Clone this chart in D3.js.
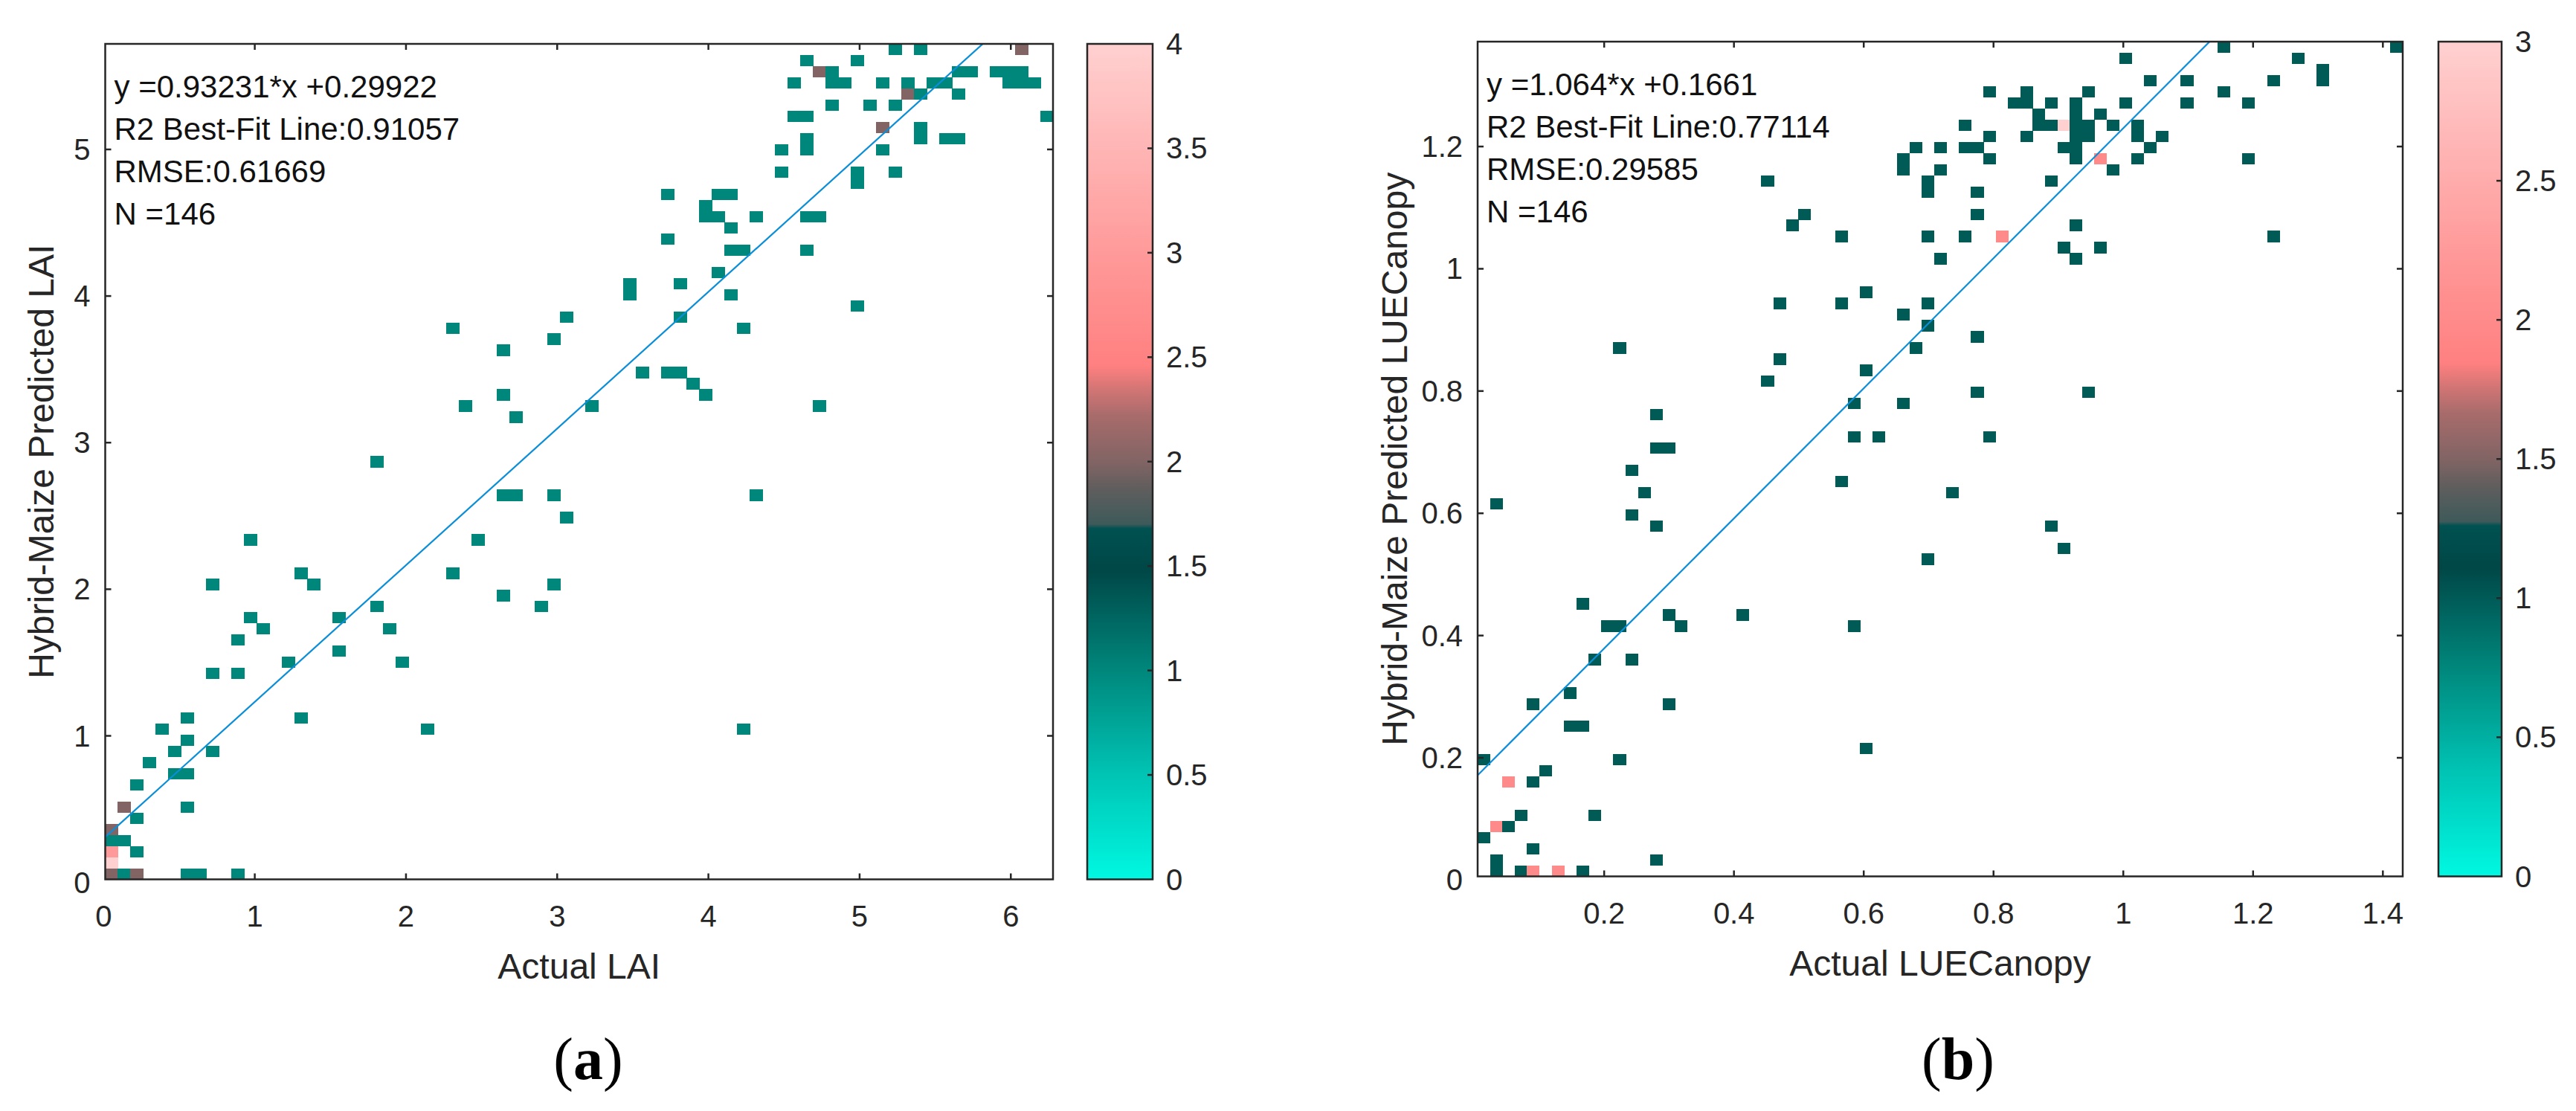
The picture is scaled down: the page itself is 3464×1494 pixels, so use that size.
<!DOCTYPE html>
<html>
<head>
<meta charset="utf-8">
<script src="https://cdn.jsdelivr.net/npm/d3@7"></script>
<style>
  body { margin: 0; background: #fff; }
  svg { display: block; }
</style>
</head>
<body>
<div id="chart"></div>
<script>
// [actual LAI, predicted LAI] for each sample (repeated points share a bin)
const laiPoints = [
  [0.05,0.06],[0.05,0.06],[0.14,0.06],[0.22,0.06],[0.22,0.06],[0.55,0.06],[0.64,0.06],[0.89,0.06],
  [0.05,0.14],[0.05,0.14],[0.05,0.14],[0.05,0.14],
  [0.05,0.21],[0.05,0.21],[0.05,0.21],[0.22,0.21],
  [0.05,0.29],[0.14,0.29],[0.05,0.36],[0.05,0.36],[0.22,0.44],
  [0.14,0.52],[0.14,0.52],[0.55,0.52],[0.22,0.67],[0.47,0.74],[0.55,0.74],[0.30,0.82],
  [0.47,0.90],[0.72,0.90],[0.55,0.97],[0.39,1.05],[2.14,1.05],[4.23,1.05],[0.55,1.12],[1.31,1.12],
  [0.72,1.43],[0.89,1.43],[1.22,1.50],[1.98,1.50],[1.56,1.58],[0.89,1.66],[1.06,1.73],[1.89,1.73],
  [0.97,1.81],[1.56,1.81],[1.81,1.88],[2.89,1.88],[2.64,1.96],[0.72,2.04],[1.39,2.04],[2.98,2.04],
  [1.31,2.11],[2.31,2.11],[0.97,2.34],[2.48,2.34],[3.06,2.49],
  [2.64,2.64],[2.73,2.64],[2.98,2.64],[4.32,2.64],[1.81,2.87],[2.73,3.18],
  [2.39,3.25],[3.23,3.25],[4.73,3.25],[2.64,3.33],[3.98,3.33],[3.90,3.40],
  [3.56,3.48],[3.73,3.48],[3.81,3.48],[2.64,3.63],[2.98,3.71],[2.31,3.78],[4.23,3.78],
  [3.06,3.86],[3.81,3.86],[4.98,3.94],[3.48,4.01],[4.15,4.01],[3.48,4.09],[3.81,4.09],[4.06,4.16],
  [4.15,4.32],[4.23,4.32],[4.65,4.32],[3.73,4.39],[4.15,4.47],
  [3.98,4.54],[4.06,4.54],[4.32,4.54],[4.65,4.54],[4.73,4.54],[3.98,4.62],
  [3.73,4.70],[4.06,4.70],[4.15,4.70],[4.98,4.77],[4.48,4.85],[4.98,4.85],[5.23,4.85],
  [4.48,5.00],[4.65,5.00],[5.15,5.00],[4.65,5.08],[5.40,5.08],[5.57,5.08],[5.65,5.08],
  [5.15,5.15],[5.15,5.15],[5.40,5.15],[4.57,5.23],[4.65,5.23],[6.24,5.23],
  [4.82,5.30],[5.07,5.30],[5.23,5.30],[5.32,5.38],[5.32,5.38],[5.40,5.38],[5.65,5.38],
  [4.57,5.46],[4.82,5.46],[4.90,5.46],[5.15,5.46],[5.32,5.46],[5.49,5.46],[5.57,5.46],[5.99,5.46],[6.07,5.46],[6.15,5.46],
  [4.73,5.53],[4.73,5.53],[4.82,5.53],[5.65,5.53],[5.74,5.53],[5.90,5.53],[5.99,5.53],[6.07,5.53],
  [4.65,5.61],[4.98,5.61],[5.23,5.68],[5.40,5.68],[6.07,5.68],[6.07,5.68]
];

// [actual LUECanopy, predicted LUECanopy]
const luePoints = [
  [0.034,0.015],[0.072,0.015],[0.091,0.015],[0.091,0.015],[0.129,0.015],[0.129,0.015],[0.167,0.015],
  [0.034,0.033],[0.281,0.033],[0.091,0.052],[0.015,0.070],[0.034,0.088],[0.034,0.088],[0.053,0.088],
  [0.072,0.106],[0.186,0.106],[0.053,0.161],[0.053,0.161],[0.091,0.161],[0.110,0.179],
  [0.015,0.197],[0.224,0.197],[0.604,0.215],[0.148,0.252],[0.167,0.252],[0.091,0.288],[0.300,0.288],
  [0.148,0.306],[0.186,0.361],[0.243,0.361],[0.205,0.416],[0.224,0.416],[0.319,0.416],[0.585,0.416],
  [0.300,0.434],[0.414,0.434],[0.167,0.452],[0.699,0.525],[0.908,0.543],[0.281,0.580],[0.889,0.580],
  [0.243,0.598],[0.034,0.616],[0.262,0.634],[0.737,0.634],[0.566,0.652],[0.243,0.671],
  [0.281,0.707],[0.300,0.707],[0.585,0.725],[0.623,0.725],[0.794,0.725],[0.281,0.762],
  [0.585,0.780],[0.661,0.780],[0.775,0.798],[0.946,0.798],[0.452,0.816],[0.604,0.835],[0.471,0.853],
  [0.224,0.871],[0.680,0.871],[0.775,0.889],[0.699,0.907],[0.661,0.926],
  [0.471,0.944],[0.566,0.944],[0.699,0.944],[0.604,0.962],[0.718,1.017],[0.927,1.017],
  [0.908,1.035],[0.965,1.035],[0.566,1.053],[0.699,1.053],[0.756,1.053],[0.813,1.053],[0.813,1.053],[1.231,1.053],
  [0.490,1.071],[0.927,1.071],[0.509,1.089],[0.775,1.089],[0.699,1.126],[0.775,1.126],
  [0.452,1.144],[0.699,1.144],[0.889,1.144],[0.661,1.162],[0.718,1.162],[0.984,1.162],
  [0.661,1.180],[0.794,1.180],[0.927,1.180],[0.965,1.180],[0.965,1.180],[1.022,1.180],[1.193,1.180],
  [0.680,1.199],[0.718,1.199],[0.756,1.199],[0.775,1.199],[0.908,1.199],[0.927,1.199],[1.041,1.199],
  [0.794,1.217],[0.851,1.217],[0.927,1.217],[0.946,1.217],[1.022,1.217],[1.060,1.217],
  [0.756,1.235],[0.870,1.235],[0.889,1.235],[0.908,1.235],[0.908,1.235],[0.908,1.235],[0.927,1.235],[0.946,1.235],[0.984,1.235],[1.022,1.235],
  [0.870,1.253],[0.927,1.253],[0.965,1.253],
  [0.832,1.271],[0.851,1.271],[0.889,1.271],[0.927,1.271],[1.003,1.271],[1.098,1.271],[1.193,1.271],
  [0.794,1.290],[0.851,1.290],[0.946,1.290],[1.155,1.290],
  [1.041,1.308],[1.098,1.308],[1.231,1.308],[1.307,1.308],[1.307,1.326],
  [1.003,1.344],[1.269,1.344],[1.155,1.363],[1.421,1.363]
];

// axis limits (data range) and bins
const laiXDomain = [0.011, 6.279];
const laiYDomain = [0.021, 5.72];
const lueXDomain = [0.005, 1.4306];
const lueYDomain = [0.006, 1.3716];
const nBins = 75;

const laiXTicks = [0, 1, 2, 3, 4, 5, 6];
const laiYTicks = [0, 1, 2, 3, 4, 5];
const lueXTicks = [0.2, 0.4, 0.6, 0.8, 1, 1.2, 1.4];
const lueYTicks = [0, 0.2, 0.4, 0.6, 0.8, 1, 1.2];
const laiBarTicks = [0, 0.5, 1, 1.5, 2, 2.5, 3, 3.5, 4];
const lueBarTicks = [0, 0.5, 1, 1.5, 2, 2.5, 3];

const laiFit = [0.93231, 0.29922];
const lueFit = [1.064, 0.1661];
const laiStats = ["y =0.93231*x +0.29922", "R2 Best-Fit Line:0.91057", "RMSE:0.61669", "N =146"];
const lueStats = ["y =1.064*x +0.1661", "R2 Best-Fit Line:0.77114", "RMSE:0.29585", "N =146"];

// colormap (position along colorbar -> colour)
const cmapPos = [0, 0.125, 0.25, 0.37, 0.42, 0.425, 0.465, 0.5, 0.555, 0.59, 0.615, 0.75, 0.875, 1];
const cmapCol = ["#00f8e2", "#00c4b4", "#00877c", "#004747", "#005151", "#3e5a5a", "#5e5d5d",
                 "#826464", "#a86b6b", "#d87676", "#ff8080", "#ff9a9a", "#ffb5b5", "#ffd0d0"];

const W = 3464, H = 1494;
const ink = "#262626";
const svg = d3.select("#chart").append("svg")
  .attr("width", W).attr("height", H)
  .style("font-family", "'Liberation Sans', Arial, sans-serif");
svg.append("rect").attr("width", W).attr("height", H).attr("fill", "#fff");
const defs = svg.append("defs");

function drawPanel(cfg) {
  const b = cfg.box;
  const x = d3.scaleLinear().domain(cfg.xDomain).range([b.left, b.right]);
  const y = d3.scaleLinear().domain(cfg.yDomain).range([b.bottom, b.top]);
  const dx = (cfg.xDomain[1] - cfg.xDomain[0]) / nBins;
  const dy = (cfg.yDomain[1] - cfg.yDomain[0]) / nBins;

  // bin the points
  const counts = d3.rollup(cfg.points, v => v.length,
    p => Math.min(nBins - 1, Math.floor((p[0] - cfg.xDomain[0]) / dx)) + "," +
         Math.min(nBins - 1, Math.floor((p[1] - cfg.yDomain[0]) / dy)));
  const cells = Array.from(counts, ([k, n]) => {
    const [i, j] = k.split(",").map(Number);
    return { i, j, n };
  });
  const cmax = cfg.barTicks[cfg.barTicks.length - 1];
  const color = d3.scaleLinear()
    .domain(cmapPos.map(t => t * cmax))
    .range(cmapCol)
    .interpolate(d3.interpolateRgb)
    .clamp(true);

  const clipId = "clip-" + cfg.id;
  defs.append("clipPath").attr("id", clipId)
    .append("rect").attr("x", b.left).attr("y", b.top)
    .attr("width", b.right - b.left).attr("height", b.bottom - b.top);

  const g = svg.append("g");
  g.append("g").attr("clip-path", `url(#${clipId})`)
    .selectAll("rect").data(cells).join("rect")
    .attr("x", d => x(cfg.xDomain[0] + d.i * dx))
    .attr("y", d => y(cfg.yDomain[0] + (d.j + 1) * dy))
    .attr("width", d => x(cfg.xDomain[0] + (d.i + 1) * dx) - x(cfg.xDomain[0] + d.i * dx) + 0.5)
    .attr("height", d => y(cfg.yDomain[0] + d.j * dy) - y(cfg.yDomain[0] + (d.j + 1) * dy) + 0.5)
    .attr("fill", d => color(d.n))
    .attr("shape-rendering", "crispEdges");

  // best-fit line
  const line = d3.line().x(d => x(d)).y(d => y(cfg.fit[0] * d + cfg.fit[1]));
  g.append("path")
    .attr("clip-path", `url(#${clipId})`)
    .attr("d", line([cfg.xDomain[0], cfg.xDomain[1]]))
    .attr("fill", "none").attr("stroke", "#0b8ed8").attr("stroke-width", 2.2);

  // frame + ticks on all sides
  g.append("rect")
    .attr("x", b.left).attr("y", b.top)
    .attr("width", b.right - b.left).attr("height", b.bottom - b.top)
    .attr("fill", "none").attr("stroke", ink).attr("stroke-width", 2.5);

  const tl = 8;
  cfg.xTicks.forEach(v => {
    const px = x(v);
    if (px > b.left + 1 && px < b.right - 1) {
      g.append("line").attr("x1", px).attr("x2", px).attr("y1", b.bottom).attr("y2", b.bottom - tl)
        .attr("stroke", ink).attr("stroke-width", 2.5);
      g.append("line").attr("x1", px).attr("x2", px).attr("y1", b.top).attr("y2", b.top + tl)
        .attr("stroke", ink).attr("stroke-width", 2.5);
    }
    g.append("text").attr("x", px).attr("y", b.bottom + 63)
      .attr("text-anchor", "middle").attr("font-size", 40).attr("fill", ink)
      .text(v);
  });
  cfg.yTicks.forEach(v => {
    const py = y(v);
    if (py > b.top + 1 && py < b.bottom - 1) {
      g.append("line").attr("x1", b.left).attr("x2", b.left + tl).attr("y1", py).attr("y2", py)
        .attr("stroke", ink).attr("stroke-width", 2.5);
      g.append("line").attr("x1", b.right).attr("x2", b.right - tl).attr("y1", py).attr("y2", py)
        .attr("stroke", ink).attr("stroke-width", 2.5);
    }
    g.append("text").attr("x", b.left - 20).attr("y", py + 14)
      .attr("text-anchor", "end").attr("font-size", 40).attr("fill", ink)
      .text(v);
  });

  // stats
  cfg.stats.forEach((s, k) => {
    g.append("text").attr("x", b.left + 12).attr("y", b.top + 72 + k * 57)
      .attr("font-size", 42).attr("fill", "#111").text(s);
  });

  // axis labels
  g.append("text").attr("x", (b.left + b.right) / 2).attr("y", b.bottom + 133)
    .attr("text-anchor", "middle").attr("font-size", 48).attr("fill", ink)
    .text(cfg.xLabel);
  g.append("text")
    .attr("transform", `translate(${cfg.yLabelX},${(b.top + b.bottom) / 2}) rotate(-90)`)
    .attr("text-anchor", "middle").attr("font-size", 48).attr("fill", ink)
    .text(cfg.yLabel);

  // colorbar
  const cb = cfg.bar;
  const cy = d3.scaleLinear().domain([0, cmax]).range([b.bottom, b.top]);
  const gradId = "grad-" + cfg.id;
  const grad = defs.append("linearGradient").attr("id", gradId)
    .attr("x1", 0).attr("y1", 1).attr("x2", 0).attr("y2", 0);
  d3.range(0, 1.0001, 0.005).forEach(t => {
    grad.append("stop").attr("offset", t).attr("stop-color", color(t * cmax));
  });
  g.append("rect").attr("x", cb.left).attr("y", b.top)
    .attr("width", cb.right - cb.left).attr("height", b.bottom - b.top)
    .attr("fill", `url(#${gradId})`)
    .attr("stroke", ink).attr("stroke-width", 2.5);
  cfg.barTicks.forEach(v => {
    const py = cy(v);
    if (py > b.top + 1 && py < b.bottom - 1) {
      g.append("line").attr("x1", cb.right).attr("x2", cb.right - 7).attr("y1", py).attr("y2", py)
        .attr("stroke", ink).attr("stroke-width", 2.5);
    }
    g.append("text").attr("x", cb.right + 18).attr("y", py + 14)
      .attr("font-size", 40).attr("fill", ink).text(v);
  });

  // panel letter
  const lab = svg.append("text").attr("x", cfg.letterX).attr("y", 1451)
    .attr("text-anchor", "middle").attr("font-size", 80)
    .style("font-family", "'Liberation Serif', 'Times New Roman', serif").attr("fill", "#000");
  lab.append("tspan").text("(");
  lab.append("tspan").attr("font-weight", "bold").text(cfg.letter);
  lab.append("tspan").text(")");
}

drawPanel({
  id: "a", points: laiPoints, xDomain: laiXDomain, yDomain: laiYDomain,
  box: { left: 141.5, right: 1416, top: 59, bottom: 1182.5 },
  xTicks: laiXTicks, yTicks: laiYTicks, fit: laiFit, stats: laiStats,
  xLabel: "Actual LAI", yLabel: "Hybrid-Maize Predicted LAI", yLabelX: 72,
  bar: { left: 1462, right: 1550 }, barTicks: laiBarTicks,
  letter: "a", letterX: 791
});

drawPanel({
  id: "b", points: luePoints, xDomain: lueXDomain, yDomain: lueYDomain,
  box: { left: 1987, right: 3231, top: 56, bottom: 1178.5 },
  xTicks: lueXTicks, yTicks: lueYTicks, fit: lueFit, stats: lueStats,
  xLabel: "Actual LUECanopy", yLabel: "Hybrid-Maize Predicted LUECanopy", yLabelX: 1892,
  bar: { left: 3279, right: 3364 }, barTicks: lueBarTicks,
  letter: "b", letterX: 2633
});
</script>
</body>
</html>
